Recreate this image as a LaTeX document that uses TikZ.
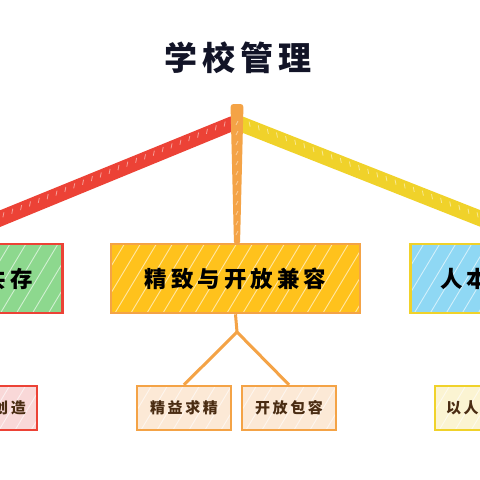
\documentclass[tikz,border=0pt]{standalone}
\usepackage{fontspec}
\usetikzlibrary{calc}
\newfontfamily\cjkT[LetterSpace=16]{Noto Sans CJK SC}
\newfontfamily\cjkM[LetterSpace=18]{Noto Sans CJK SC}
\newfontfamily\cjkS[LetterSpace=17]{Noto Sans CJK SC}
\definecolor{cred}{HTML}{EC4236}
\definecolor{cyel}{HTML}{F0D22A}
\definecolor{cora}{HTML}{F4A346}
\definecolor{cgold}{HTML}{FFC21C}
\definecolor{cgreen}{HTML}{8DD88E}
\definecolor{cblue}{HTML}{8FD8F4}
\definecolor{cpeach}{HTML}{FCE9D6}
\definecolor{cpink}{HTML}{F9D8D8}
\definecolor{ccream}{HTML}{FBF4D2}
\definecolor{ctitle}{HTML}{121427}
\definecolor{cbrown}{HTML}{4A2C12}
\tikzset{
  hatch/.style={path picture={
    \foreach \k in {0,16,...,420}{
      \draw[white,line width=0.9pt,opacity=0.6]
        ($(path picture bounding box.south west)+(\k pt-60pt,0pt)$) -- ++(45pt,75pt);
    }}},
  bigbox/.style={rectangle,draw,line width=2.6pt,hatch,inner sep=0pt,minimum height=69pt,
    inner xsep=30pt,font=\cjkM\bfseries\fontsize{22.5}{22.5}\selectfont,text=black},
  smallbox/.style={rectangle,draw,line width=2.4pt,hatch,inner sep=0pt,minimum height=44pt,
    inner xsep=11pt,font=\cjkS\bfseries\fontsize{15}{15}\selectfont,text=cbrown},
  link/.style={cora,line width=3pt}
}
\begin{document}
\begin{tikzpicture}[x=1pt,y=-1pt]
\clip (0,0) rectangle (480,480);
\fill[white] (0,0) rectangle (480,480);
% title
\node[font=\cjkT\bfseries\fontsize{33}{33}\selectfont,text=ctitle] (title) at (238,58) {学校管理};
% boxes
\node[bigbox,fill=cgold,draw=cora,minimum width=249pt] (mid) at (235.5,278.5) {精致与开放兼容};
\node[bigbox,fill=cgreen,draw=cred,anchor=east] (left) at (64,278.5) {和谐共存};
\node[bigbox,fill=cblue,draw=cyel,anchor=west] (right) at (409,278.5) {人本管理};
\node[smallbox,fill=cpeach,draw=cora,minimum width=94pt] (c1) at (184,408) {精益求精};
\node[smallbox,fill=cpeach,draw=cora,minimum width=94pt] (c2) at (289,408) {开放包容};
\node[smallbox,fill=cpink,draw=cred,anchor=east] (c0) at (38,408) {开拓创造};
\node[smallbox,fill=ccream,draw=cyel,anchor=west] (c3) at (434,408) {以人为本};
% bands
\coordinate (top) at (237,104);
\coordinate (redend) at (-62,244);
\coordinate (yelend) at (545,244);
\fill[cred] (229,117) -- (236,115) -- (236,130) -- ($(redend)+(6,6)$) -- ($(redend)+(-6,-6)$) -- cycle;
\fill[cyel] (238,115) -- (244,117) -- ($(yelend)+(6,-6)$) -- ($(yelend)+(-6,6)$) -- (238,131) -- cycle;
\fill[cora,rounded corners=3pt] ($(top)+(-6.5,0)$) -- ($(top)+(6.5,0)$) -- ($(mid.north)+(4.5,2)$) -- ($(mid.north)+(-1.5,2)$) -- cycle;
\foreach \yy in {125,135,...,235}{
  \draw[white,opacity=0.45,line width=0.7pt] (236,\yy) -- ++(2,-4);
}
\foreach \t in {0.03,0.06,...,0.97}{
  \draw[white,opacity=0.5,line width=0.8pt] ($(233,123)!\t!(-62,244)$) -- ++(1,-5);
  \draw[white,opacity=0.5,line width=0.8pt] ($(241,123)!\t!(545,244)$) -- ++(-1,-5);
}
% child links
\coordinate (split) at (237,332);
\draw[link] (mid.south) -- (split);
\draw[link,line join=round] (split) -- (c1.north);
\draw[link,line join=round] (split) -- (c2.north);
\end{tikzpicture}
\end{document}
